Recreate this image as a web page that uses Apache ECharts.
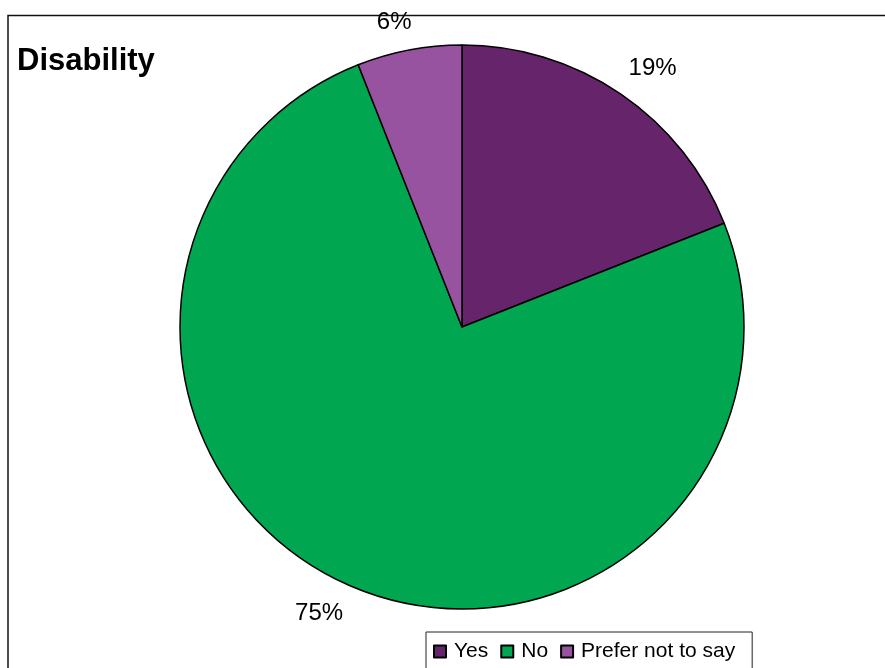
<!DOCTYPE html>
<html><head><meta charset="utf-8">
<script src="https://cdn.jsdelivr.net/npm/echarts@6/dist/echarts.min.js"></script>
<style>html,body{margin:0;padding:0;background:#fff}#c{width:885px;height:668px}</style>
</head><body><div id="c"></div>
<script>
const categories = ["Yes", "No", "Prefer not to say"];
const values = [19, 75, 6];
const colors = ["#66256A", "#00A650", "#9853A0"];
const titleText = "Disability";
// small label nudges (style tweaks, px)
const labelNudgeX = [-11, 8, 12];
const labelNudgeY = [-5, 5, -3];

const chart = echarts.init(document.getElementById('c'), null, {renderer: 'canvas'});
const FONT = "'Liberation Sans', Arial, sans-serif";
chart.setOption({
  animation: false,
  backgroundColor: '#fff',
  graphic: [{
    type: 'rect', silent: true,
    shape: {x: 8, y: 15.5, width: 900, height: 700},
    style: {fill: 'none', stroke: '#111', lineWidth: 1.5}
  }],
  title: {
    text: titleText, left: 17, top: 46, padding: 0,
    textStyle: {fontFamily: FONT, fontSize: 31, fontWeight: 'bold', color: '#000'}
  },
  legend: {
    left: 426, top: 632,
    orient: 'horizontal',
    data: categories,
    icon: 'rect', itemWidth: 12, itemHeight: 12, itemGap: 12,
    padding: [9, 17, 20, 7],
    borderColor: '#222', borderWidth: 1,
    textStyle: {fontFamily: FONT, fontSize: 21, color: '#000', padding: [0, 0, 0, 3]}
  },
  series: [{
    type: 'pie',
    center: [462, 327],
    radius: [0, 282],
    startAngle: 90,
    clockwise: true,
    avoidLabelOverlap: false,
    data: categories.map((c, i) => ({name: c, value: values[i], itemStyle: {color: colors[i]}})),
    itemStyle: {borderColor: '#000', borderWidth: 1.5},
    label: {
      show: true, position: 'outside',
      formatter: p => Math.round(p.percent) + '%',
      fontFamily: FONT, fontSize: 24, color: '#000'
    },
    labelLine: {show: false, length: 25, length2: 0},
    labelLayout: p => ({dx: labelNudgeX[p.dataIndex], dy: labelNudgeY[p.dataIndex]}),
    emphasis: {disabled: true}
  }]
});
</script></body></html>
